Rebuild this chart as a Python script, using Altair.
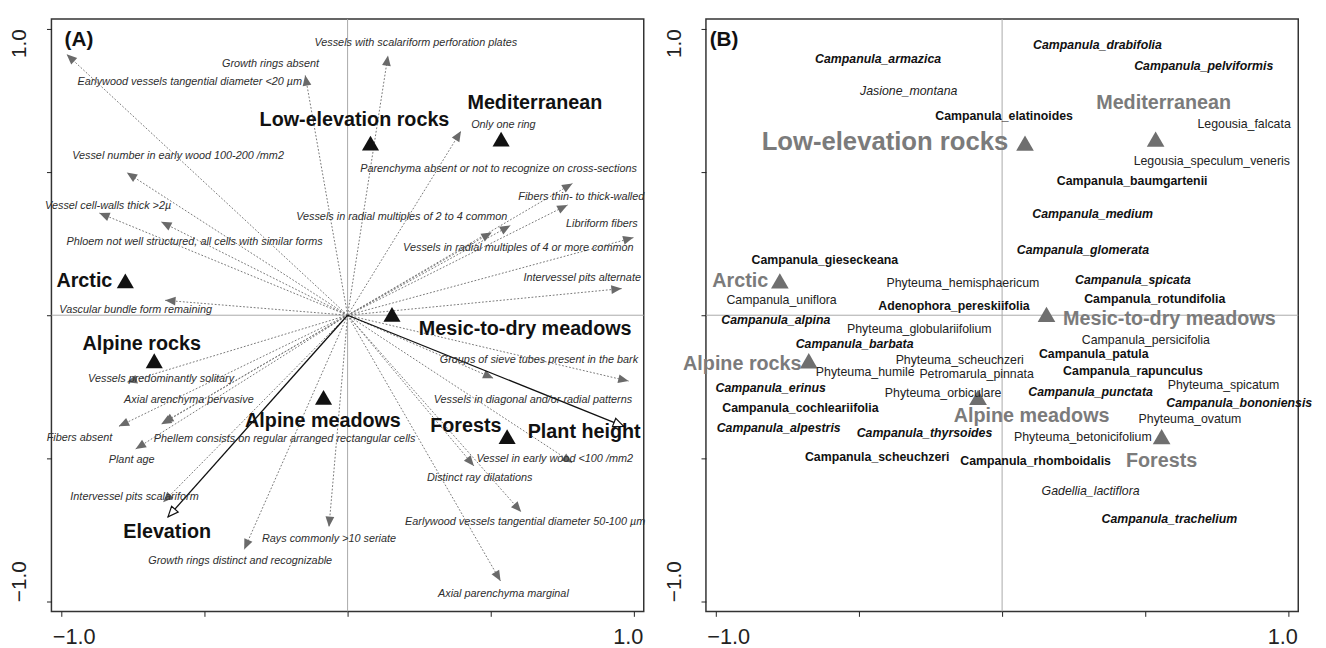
import math
import altair as alt
import pandas as pd

FONT = "Liberation Sans"

# ---------------- Panel A: trait vectors ----------------
trait_names = [
    "Earlywood vessels tangential diameter <20 µm",
    "Growth rings absent",
    "Vessels with scalariform perforation plates",
    "Only one ring",
    "Parenchyma absent or not to recognize on cross-sections",
    "Fibers thin- to thick-walled",
    "Vessels in radial multiples of 2 to 4 common",
    "Vessels in radial multiples of 4 or more common",
    "Libriform fibers",
    "Intervessel pits alternate",
    "Vessel cell-walls thick >2µ",
    "Vessel number in early wood 100-200 /mm2",
    "Phloem not well structured, all cells with similar forms",
    "Vascular bundle form remaining",
    "Vessels predominantly solitary",
    "Axial arenchyma pervasive",
    "Fibers absent",
    "Phellem consists on regular arranged rectangular cells",
    "Plant age",
    "Intervessel pits scalariform",
    "Growth rings distinct and recognizable",
    "Rays commonly >10 seriate",
    "Groups of sieve tubes present in the bark",
    "Vessels in diagonal and/or radial patterns",
    "Vessel in early wood <100 /mm2",
    "Distinct ray dilatations",
    "Earlywood vessels tangential diameter 50-100 µm",
    "Axial parenchyma marginal",
]
trait_tip_x = [-0.981, -0.148, 0.141, 0.396, 0.785, 0.768, 0.568, 0.503, 0.998, 0.957,
               -0.867, -0.771, -0.651, -0.637, -0.771, -0.651, -0.799, -0.644, -0.740, -0.644,
               -0.361, -0.065, 0.981, 0.509, 0.785, 0.441, 0.606, 0.534]
trait_tip_y = [0.911, 0.838, 0.907, 0.643, 0.460, 0.385, 0.313, 0.289, 0.271, 0.093,
               0.357, 0.498, 0.326, 0.052, -0.234, -0.381, -0.388, -0.375, -0.467, -0.653,
               -0.818, -0.739, -0.230, -0.220, -0.515, -0.526, -0.687, -0.928]
trait_lab_x = [-0.551, -0.269, 0.238, 0.544, 0.527, 0.816, 0.189, 0.596, 0.888, 0.819,
               -0.836, -0.592, -0.534, -0.740, -0.651, -0.554, -0.936, -0.220, -0.754, -0.744,
               -0.375, -0.065, 0.668, 0.647, 0.723, 0.461, 0.620, 0.544]
trait_lab_y = [0.814, 0.876, 0.952, 0.663, 0.509, 0.412, 0.344, 0.234, 0.320, 0.131,
               0.381, 0.557, 0.254, 0.017, -0.223, -0.296, -0.430, -0.433, -0.505, -0.636,
               -0.859, -0.780, -0.155, -0.296, -0.502, -0.570, -0.722, -0.973]

# environmental vectors (black arrows)
env_names = ["Elevation", "Plant height"]
env_tip_x = [-0.627, 0.964]
env_tip_y = [-0.704, -0.388]
env_lab_x = [-0.630, 0.826]
env_lab_y = [-0.756, -0.409]

# ---------------- habitats (triangles, both panels) ----------------
site_names = ["Arctic", "Low-elevation rocks", "Mediterranean", "Mesic-to-dry meadows",
              "Alpine rocks", "Alpine meadows", "Forests"]
site_x = [-0.776, 0.080, 0.536, 0.155, -0.675, -0.084, 0.557]
site_y = [0.120, 0.601, 0.615, 0.003, -0.159, -0.287, -0.424]
siteA_lab_x = [-0.919, 0.024, 0.654, 0.620, -0.719, -0.086, 0.413]
siteA_lab_y = [0.120, 0.680, 0.742, -0.048, -0.100, -0.368, -0.388]
siteB_lab_x = [-0.914, -0.409, 0.564, 0.584, -0.907, 0.103, 0.557]
siteB_lab_y = [0.120, 0.605, 0.739, -0.014, -0.172, -0.351, -0.509]
siteB_lab_size = [20, 26, 20, 20, 20, 20, 20]

# ---------------- Panel B: species ----------------
species_names = [
    "Campanula_armazica", "Jasione_montana", "Campanula_elatinoides", "Campanula_drabifolia",
    "Campanula_pelviformis", "Legousia_falcata", "Legousia_speculum_veneris", "Campanula_baumgartenii",
    "Campanula_medium", "Campanula_glomerata", "Campanula_gieseckeana", "Phyteuma_hemisphaericum",
    "Campanula_spicata", "Campanula_uniflora", "Campanula_rotundifolia", "Adenophora_pereskiifolia",
    "Campanula_alpina", "Phyteuma_globulariifolium", "Campanula_persicifolia", "Campanula_barbata",
    "Campanula_patula", "Phyteuma_scheuchzeri", "Campanula_rapunculus", "Phyteuma_humile",
    "Petromarula_pinnata", "Phyteuma_spicatum", "Campanula_erinus", "Campanula_punctata",
    "Phyteuma_orbiculare", "Campanula_bononiensis", "Campanula_cochleariifolia", "Phyteuma_ovatum",
    "Campanula_alpestris", "Campanula_thyrsoides", "Phyteuma_betonicifolium", "Campanula_scheuchzeri",
    "Campanula_rhomboidalis", "Gadellia_lactiflora", "Campanula_trachelium",
]
species_x = [-0.433, -0.326, 0.007, 0.333, 0.704, 0.845, 0.732, 0.454,
             0.316, 0.282, -0.619, -0.137, 0.457, -0.770, 0.533, -0.168,
             -0.790, -0.289, 0.502, -0.515, 0.320, -0.148, 0.457, -0.478,
             -0.089, 0.773, -0.808, 0.309, -0.206, 0.828, -0.704, 0.656,
             -0.780, -0.271, 0.282, -0.436, 0.117, 0.309, 0.584]
species_y = [0.893, 0.784, 0.694, 0.945, 0.869, 0.667, 0.540, 0.467,
             0.354, 0.227, 0.192, 0.113, 0.124, 0.052, 0.058, 0.031,
             -0.017, -0.048, -0.086, -0.100, -0.134, -0.158, -0.196, -0.199,
             -0.206, -0.244, -0.254, -0.268, -0.271, -0.306, -0.323, -0.364,
             -0.395, -0.412, -0.426, -0.495, -0.509, -0.615, -0.711]
# bi = bold italic, b = bold, n = normal, i = italic
species_style = ["bi", "i", "b", "bi", "bi", "n", "n", "b",
                 "bi", "bi", "b", "n", "bi", "n", "b", "b",
                 "bi", "n", "n", "bi", "b", "n", "b", "n",
                 "n", "n", "bi", "bi", "n", "bi", "b", "n",
                 "bi", "bi", "n", "b", "b", "i", "bi"]

tick_values = [-1.0, -0.5, 0.0, 0.5, 1.0]
panel_tags = ["(A)", "(B)"]
tag_x = [-0.988, -1.021]
tag_y = [0.959, 0.962]

# ---------------- scales & axes ----------------
DOMAIN = [-1.034, 1.034]
xsc = alt.Scale(domain=DOMAIN, nice=False, zero=False)
ysc = alt.Scale(domain=DOMAIN, nice=False, zero=False)

LABEL_EXPR = "datum.value == 1 ? '1.0' : (datum.value == -1 ? '\u22121.0' : '')"

X_AXIS = alt.Axis(
    values=tick_values, title=None, grid=False, domain=False,
    ticks=True, tickSize=5, tickColor="#222222", tickWidth=1,
    labelExpr=LABEL_EXPR, labelFont=FONT, labelFontSize=22, labelColor="#222222",
    labelPadding=11, labelOverlap=False, labelBound=False,
    labelFlush=12, labelFlushOffset=9,
)
Y_AXIS = alt.Axis(
    values=tick_values, title=None, grid=False, domain=False,
    ticks=True, tickSize=5, tickColor="#222222", tickWidth=1,
    labelExpr=LABEL_EXPR, labelFont=FONT, labelFontSize=21, labelColor="#222222",
    labelAngle=270, labelBaseline="alphabetic", labelPadding=21,
    labelOverlap=False, labelBound=False,
    labelFlush=12, labelFlushOffset=6,
    labelAlign={"condition": {"test": "datum.value > 0", "value": "right"}, "value": "left"},
    minExtent=35, maxExtent=35,
)


def ex(f):
    return alt.X(f, type="quantitative", scale=xsc, axis=X_AXIS)


def ey(f):
    return alt.Y(f, type="quantitative", scale=ysc, axis=Y_AXIS)


def heading(xs, ys):
    return [(math.degrees(math.atan2(a, b)) + 360.0) % 360.0 for a, b in zip(xs, ys)]


HEAD = "M 0 0 L 0.85 2 L -0.85 2 Z"

zero = pd.DataFrame({"z": [0.0]})


def zero_lines():
    v = alt.Chart(zero).mark_rule(color="#aaaaaa", strokeWidth=1).encode(x=ex("z"))
    h = alt.Chart(zero).mark_rule(color="#aaaaaa", strokeWidth=1).encode(y=ey("z"))
    return [v, h]


# ---------------- Panel A ----------------
traits = pd.DataFrame({
    "name": trait_names, "tx": trait_tip_x, "ty": trait_tip_y,
    "lx": trait_lab_x, "ly": trait_lab_y,
})
traits["ox"] = 0.0
traits["oy"] = 0.0
traits["ang"] = heading(trait_tip_x, trait_tip_y)

env = pd.DataFrame({"name": env_names, "tx": env_tip_x, "ty": env_tip_y,
                    "lx": env_lab_x, "ly": env_lab_y})
env["ox"] = 0.0
env["oy"] = 0.0
env["ang"] = heading(env_tip_x, env_tip_y)

sitesA = pd.DataFrame({"name": site_names, "x": site_x, "y": site_y,
                       "lx": siteA_lab_x, "ly": siteA_lab_y})
sitesB = pd.DataFrame({"name": site_names, "x": site_x, "y": site_y,
                       "lx": siteB_lab_x, "ly": siteB_lab_y, "fs": siteB_lab_size})
tags = pd.DataFrame({"tag": panel_tags, "x": tag_x, "y": tag_y})

trait_lines = alt.Chart(traits).mark_rule(
    color="#777777", strokeWidth=1, strokeDash=[1.8, 1.8]
).encode(x=ex("ox"), y=ey("oy"), x2=alt.X2("tx"), y2=alt.Y2("ty"))

trait_heads = alt.Chart(traits).mark_point(
    shape=HEAD, filled=True, color="#6a6a6a", size=110, opacity=1
).encode(x=ex("tx"), y=ey("ty"), angle=alt.Angle("ang", type="quantitative", scale=None))

trait_text = alt.Chart(traits).mark_text(
    font=FONT, fontSize=11, fontStyle="italic", color="#2e2e2e", align="center", baseline="middle"
).encode(x=ex("lx"), y=ey("ly"), text=alt.Text("name", type="nominal"))

env_lines = alt.Chart(env).mark_rule(color="#111111", strokeWidth=1.3).encode(
    x=ex("ox"), y=ey("oy"), x2=alt.X2("tx"), y2=alt.Y2("ty"))

env_heads = alt.Chart(env).mark_point(
    shape=HEAD, filled=True, fill="white", stroke="#111111", strokeWidth=1.2, size=110, opacity=1
).encode(x=ex("tx"), y=ey("ty"), angle=alt.Angle("ang", type="quantitative", scale=None))

env_text = alt.Chart(env).mark_text(
    font=FONT, fontSize=20, fontWeight="bold", color="#111111", align="center", baseline="middle"
).encode(x=ex("lx"), y=ey("ly"), text=alt.Text("name", type="nominal"))

triA = alt.Chart(sitesA).mark_point(
    shape="triangle-up", filled=True, color="#111111", size=300, opacity=1
).encode(x=ex("x"), y=ey("y"))

siteA_text = alt.Chart(sitesA).mark_text(
    font=FONT, fontSize=20, fontWeight="bold", color="#111111", align="center", baseline="middle"
).encode(x=ex("lx"), y=ey("ly"), text=alt.Text("name", type="nominal"))

tagA = alt.Chart(tags[tags.tag == "(A)"]).mark_text(
    font=FONT, fontSize=21, fontWeight="bold", color="#111111", align="left", baseline="middle"
).encode(x=ex("x"), y=ey("y"), text=alt.Text("tag", type="nominal"))

panelA = alt.layer(
    *zero_lines(), trait_lines, trait_heads, env_lines, env_heads,
    trait_text, triA, siteA_text, env_text, tagA
).properties(width=600, height=600)

# ---------------- Panel B ----------------
species = pd.DataFrame({"name": species_names, "x": species_x, "y": species_y, "st": species_style})

style_props = {
    "bi": dict(fontWeight="bold", fontStyle="italic", color="#111111"),
    "b": dict(fontWeight="bold", fontStyle="normal", color="#111111"),
    "n": dict(fontWeight="normal", fontStyle="normal", color="#222222"),
    "i": dict(fontWeight="normal", fontStyle="italic", color="#222222"),
}
species_layers = []
for st, props in style_props.items():
    species_layers.append(
        alt.Chart(species[species.st == st]).mark_text(
            font=FONT, fontSize=12.5, align="center", baseline="middle", **props
        ).encode(x=ex("x"), y=ey("y"), text=alt.Text("name", type="nominal"))
    )

triB = alt.Chart(sitesB).mark_point(
    shape="triangle-up", filled=True, color="#6f6f6f", size=320, opacity=1
).encode(x=ex("x"), y=ey("y"))

siteB_text = alt.Chart(sitesB).mark_text(
    font=FONT, fontWeight="bold", color="#7b7b7b", align="center", baseline="middle"
).encode(x=ex("lx"), y=ey("ly"), text=alt.Text("name", type="nominal"),
         size=alt.Size("fs", type="quantitative", scale=None))

tagB = alt.Chart(tags[tags.tag == "(B)"]).mark_text(
    font=FONT, fontSize=21, fontWeight="bold", color="#111111", align="left", baseline="middle"
).encode(x=ex("x"), y=ey("y"), text=alt.Text("tag", type="nominal"))

panelB = alt.layer(
    *zero_lines(), triB, *species_layers, siteB_text, tagB
).properties(width=600, height=600)

chart = alt.hconcat(panelA, panelB, spacing=16).properties(
    padding={"left": 0, "top": 5, "right": 5, "bottom": 5}
).configure(font=FONT).configure_view(stroke="#333333", strokeWidth=1.5)

chart.save("out.html", embed_options={"renderer": "svg", "actions": False})
